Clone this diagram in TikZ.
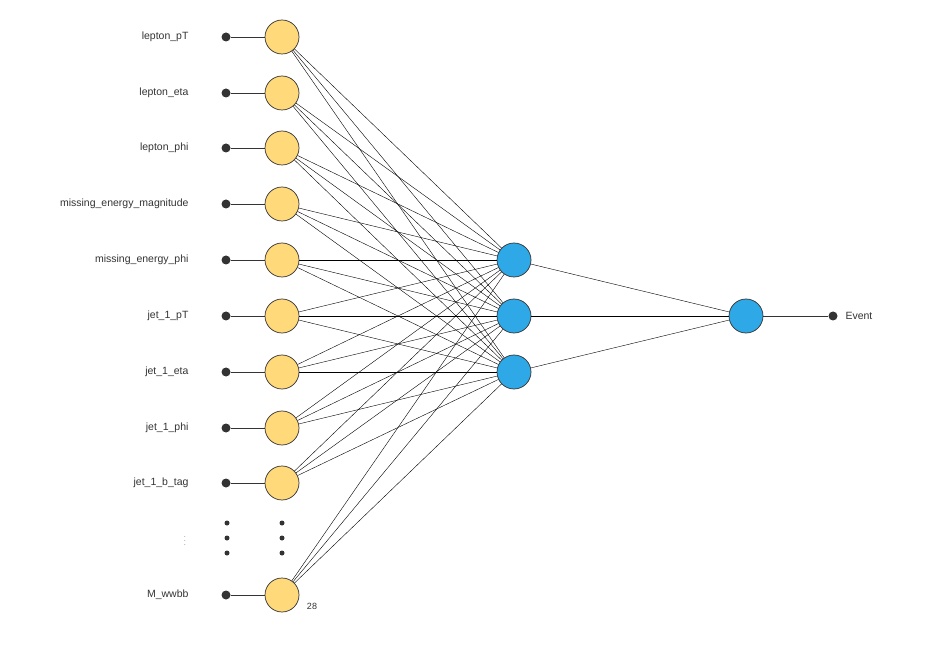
\documentclass[tikz,border=0pt]{standalone}
\usepackage{fontspec}
\setmainfont{Liberation Sans}
\definecolor{inY}{HTML}{FFD97A}
\definecolor{hidB}{HTML}{2EA8E6}
\definecolor{dk}{HTML}{333333}
\begin{document}
\begin{tikzpicture}[x=1pt,y=-1pt,
  neu/.style={circle,draw=dk,line width=0.7pt,minimum size=34pt,inner sep=0pt},
  yel/.style={neu,fill=inY},
  blu/.style={neu,fill=hidB},
  dot/.style={circle,fill=dk,inner sep=0pt,minimum size=9pt},
  sdot/.style={circle,fill=dk,inner sep=0pt,minimum size=5pt},
  lab/.style={anchor=east,font=\fontsize{10.5}{12}\selectfont,text=dk},
  w/.style={line width=0.4pt,draw=black},
  c/.style={line width=0.7pt,draw=dk}]
\useasboundingbox (0,0) rectangle (930,655);
\foreach \n/\y/\t in {1/37/lepton\_pT,2/93/lepton\_eta,3/148/lepton\_phi,4/204/missing\_energy\_magnitude,5/260/missing\_energy\_phi,6/316/jet\_1\_pT,7/372/jet\_1\_eta,8/428/jet\_1\_phi,9/483/jet\_1\_b\_tag,10/595/M\_wwbb}{
  \node[dot] (d\n) at (226,\y) {};
  \node[yel] (i\n) at (282,\y) {};
  \node[lab] (l\n) at (192,\y) {\t};
  \draw[c] (d\n) -- (i\n);
}
\foreach \k/\y in {1/260,2/316,3/372}{\node[blu] (h\k) at (514,\y) {};}
\node[blu] (o) at (746,316) {};
\node[dot] (e) at (833,316) {};
\node[anchor=west,font=\fontsize{10.5}{12}\selectfont,text=dk] (el) at (842,316) {Event};
\foreach \n in {1,...,10}{\foreach \k in {1,2,3}{\draw[w] (i\n) -- (h\k);}}
\foreach \k in {1,2,3}{\draw[w] (h\k) -- (o);}
\draw[c] (o) -- (e);
\foreach \j/\y in {a/523,b/538,c/553}{
  \node[sdot] (sa\j) at (227,\y) {};
  \node[sdot] (sb\j) at (282,\y) {};
}
\node[font=\fontsize{6}{7}\selectfont,text=dk] (vd) at (185,538) {$\vdots$};
\node[font=\fontsize{9}{10}\selectfont,text=dk] (n28) at (312,606) {28};
\end{tikzpicture}
\end{document}
